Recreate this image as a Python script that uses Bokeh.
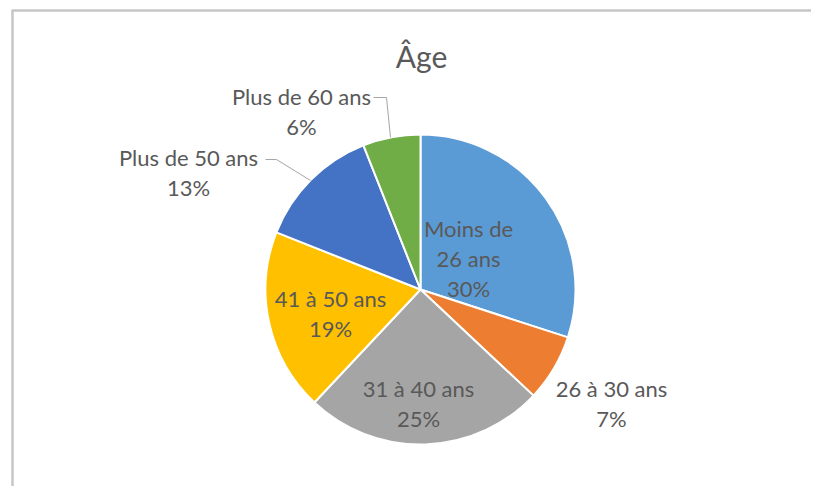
import math
from bokeh.plotting import figure
from bokeh.models import Range1d, ColumnDataSource
from bokeh.core.properties import value
from bokeh.embed import file_html
from bokeh.resources import INLINE

# ---- data ----
categories = ["Moins de 26 ans", "26 à 30 ans", "31 à 40 ans", "41 à 50 ans", "Plus de 50 ans", "Plus de 60 ans"]
label_texts = ["Moins de\n26 ans", "26 à 30 ans", "31 à 40 ans", "41 à 50 ans", "Plus de 50 ans", "Plus de 60 ans"]
percents = [30, 7, 25, 19, 13, 6]
colors = ["#5B9BD5", "#ED7D31", "#A5A5A5", "#FFC000", "#4472C4", "#70AD47"]
title_text = "Âge"

# ---- layout (page pixels, figure drawn from the page's top-left) ----
W, H = 811, 486
def ty(py):  # page pixel y -> data y
    return H - py

cx, cy_px, R = 420, 289, 155
cy = ty(cy_px)

# label centers (page px)
label_pos = [(468, 258), (611, 403), (418, 403), (330, 313), (188, 172), (301, 111)]

p = figure(width=W, height=H, output_backend="svg", toolbar_location=None,
           x_range=Range1d(0, W), y_range=Range1d(0, H),
           min_border=0)
p.axis.visible = False
p.grid.visible = False
p.outline_line_color = None
p.background_fill_color = "white"

# frame border of the chart area
p.segment(x0=[11, 12], y0=[ty(10), ty(10)], x1=[W, 12], y1=[ty(10), 0],
          line_color="#c6c6c6", line_width=2.5)

# pie wedges
total = float(sum(percents))
starts, ends = [], []
cum = 0.0
for v in percents:
    a0 = math.pi / 2 - 2 * math.pi * (cum + v) / total
    a1 = math.pi / 2 - 2 * math.pi * cum / total
    starts.append(a0)
    ends.append(a1)
    cum += v
src = ColumnDataSource(dict(start=starts, end=ends, color=colors))
p.wedge(x=cx, y=cy, radius=R, start_angle="start", end_angle="end",
        fill_color="color", line_color="white", line_width=2, source=src)

# leader lines
p.line(x=[373, 386, 390], y=[ty(97), ty(97), ty(137)], line_color="#a6a6a6", line_width=1)
p.line(x=[265, 276, 310], y=[ty(159), ty(159), ty(180)], line_color="#a6a6a6", line_width=1)

# labels
texts = [f"{t}\n{v}%" for t, v in zip(label_texts, percents)]
lsrc = ColumnDataSource(dict(x=[q[0] for q in label_pos], y=[ty(q[1]) for q in label_pos], t=texts))
p.text(x="x", y="y", text="t", source=lsrc, text_align="center", text_baseline="middle",
       text_font=value("Lato"), text_font_size="22px", text_color="#595959",
       text_line_height=1.1)

# title
p.text(x=[421], y=[ty(55)], text=[title_text], text_align="center", text_baseline="middle",
       text_font=value("Lato"), text_font_size="30px", text_color="#595959")

open("out.html", "w").write(file_html(p, INLINE))
